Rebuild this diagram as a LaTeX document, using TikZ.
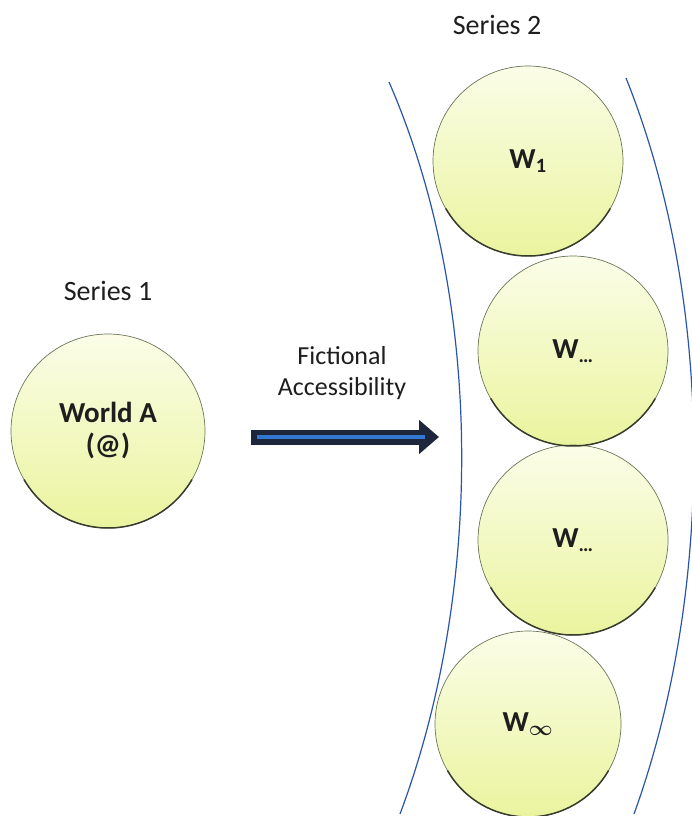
\documentclass[tikz,border=0pt]{standalone}
\usepackage{fontspec}
\setmainfont{Carlito}
\usetikzlibrary{arrows.meta}

\definecolor{rimgreen}{RGB}{105,118,88}
\definecolor{rimdark}{RGB}{55,60,45}
\definecolor{fillpale}{RGB}{251,253,232}
\definecolor{fillyel}{RGB}{234,244,158}
\definecolor{boundblue}{RGB}{40,85,170}
\definecolor{shaftnavy}{RGB}{30,38,60}
\definecolor{shaftblue}{RGB}{50,120,210}
\definecolor{labelgray}{RGB}{30,30,30}

\begin{document}
\begin{tikzpicture}[x=1pt,y=-1pt,
  world/.style={circle, minimum size=190pt, inner sep=0pt,
    top color=fillpale, bottom color=fillyel, draw=rimgreen, line width=0.7pt,
    text=labelgray, font=\bfseries\fontsize{29}{32}\selectfont, align=center},
  heading/.style={text=labelgray, font=\fontsize{28}{31}\selectfont},
  caption/.style={text=labelgray, font=\fontsize{26}{31}\selectfont, align=center},
  rimshadow/.style={draw=rimdark, line width=1.5pt},
  boundary/.style={draw=boundblue, line width=1.2pt}
]
% page frame
\useasboundingbox (0,0) rectangle (691,816);

% headings
\node[heading] (s1) at (108,291) {Series 1};
\node[heading] (s2) at (497,25) {Series 2};

% the actual world
\node[world, minimum size=194pt] (wa) at (108,431) {World A\\(@)};
\draw[rimshadow] (wa) ++(150:97) arc[start angle=150, end angle=30, radius=97];

% bounding curves of the second series
\coordinate (lt) at (389,82);
\coordinate (lb) at (400,814);
\coordinate (rt) at (626,78);
\coordinate (rb) at (634,814);
\draw[boundary] (lt) .. controls (484,300) and (484,590) .. (lb);
\draw[boundary] (rt) .. controls (715,300) and (715,590) .. (rb);

% worlds of the second series
\node[world] (w1) at (528,161) {W\textsubscript{1}};
\node[world] (w2) at (573,351) {W\textsubscript{\dots}};
\node[world] (w3) at (573,540) {W\textsubscript{\dots}};
\node[world, minimum size=186pt] (wn) at (528,724) {W{\boldmath$_{\infty}$}};
\foreach \w/\r in {w1/95, w2/95, w3/95, wn/93}
  \draw[rimshadow] (\w) ++(150:\r) arc[start angle=150, end angle=30, radius=\r];

% accessibility arrow
\node[caption] (fa) at (342,373) {Fictional\\Accessibility};
\coordinate (as) at (251,437);
\coordinate (ae) at (439,437);
\draw[shaftnavy, line width=15pt,
  -{Triangle[length=20pt, width=33pt]}] (as) -- (ae);
\draw[shaftblue, line width=4pt] (as) ++(6,0) -- ++(168,0);
\end{tikzpicture}
\end{document}
